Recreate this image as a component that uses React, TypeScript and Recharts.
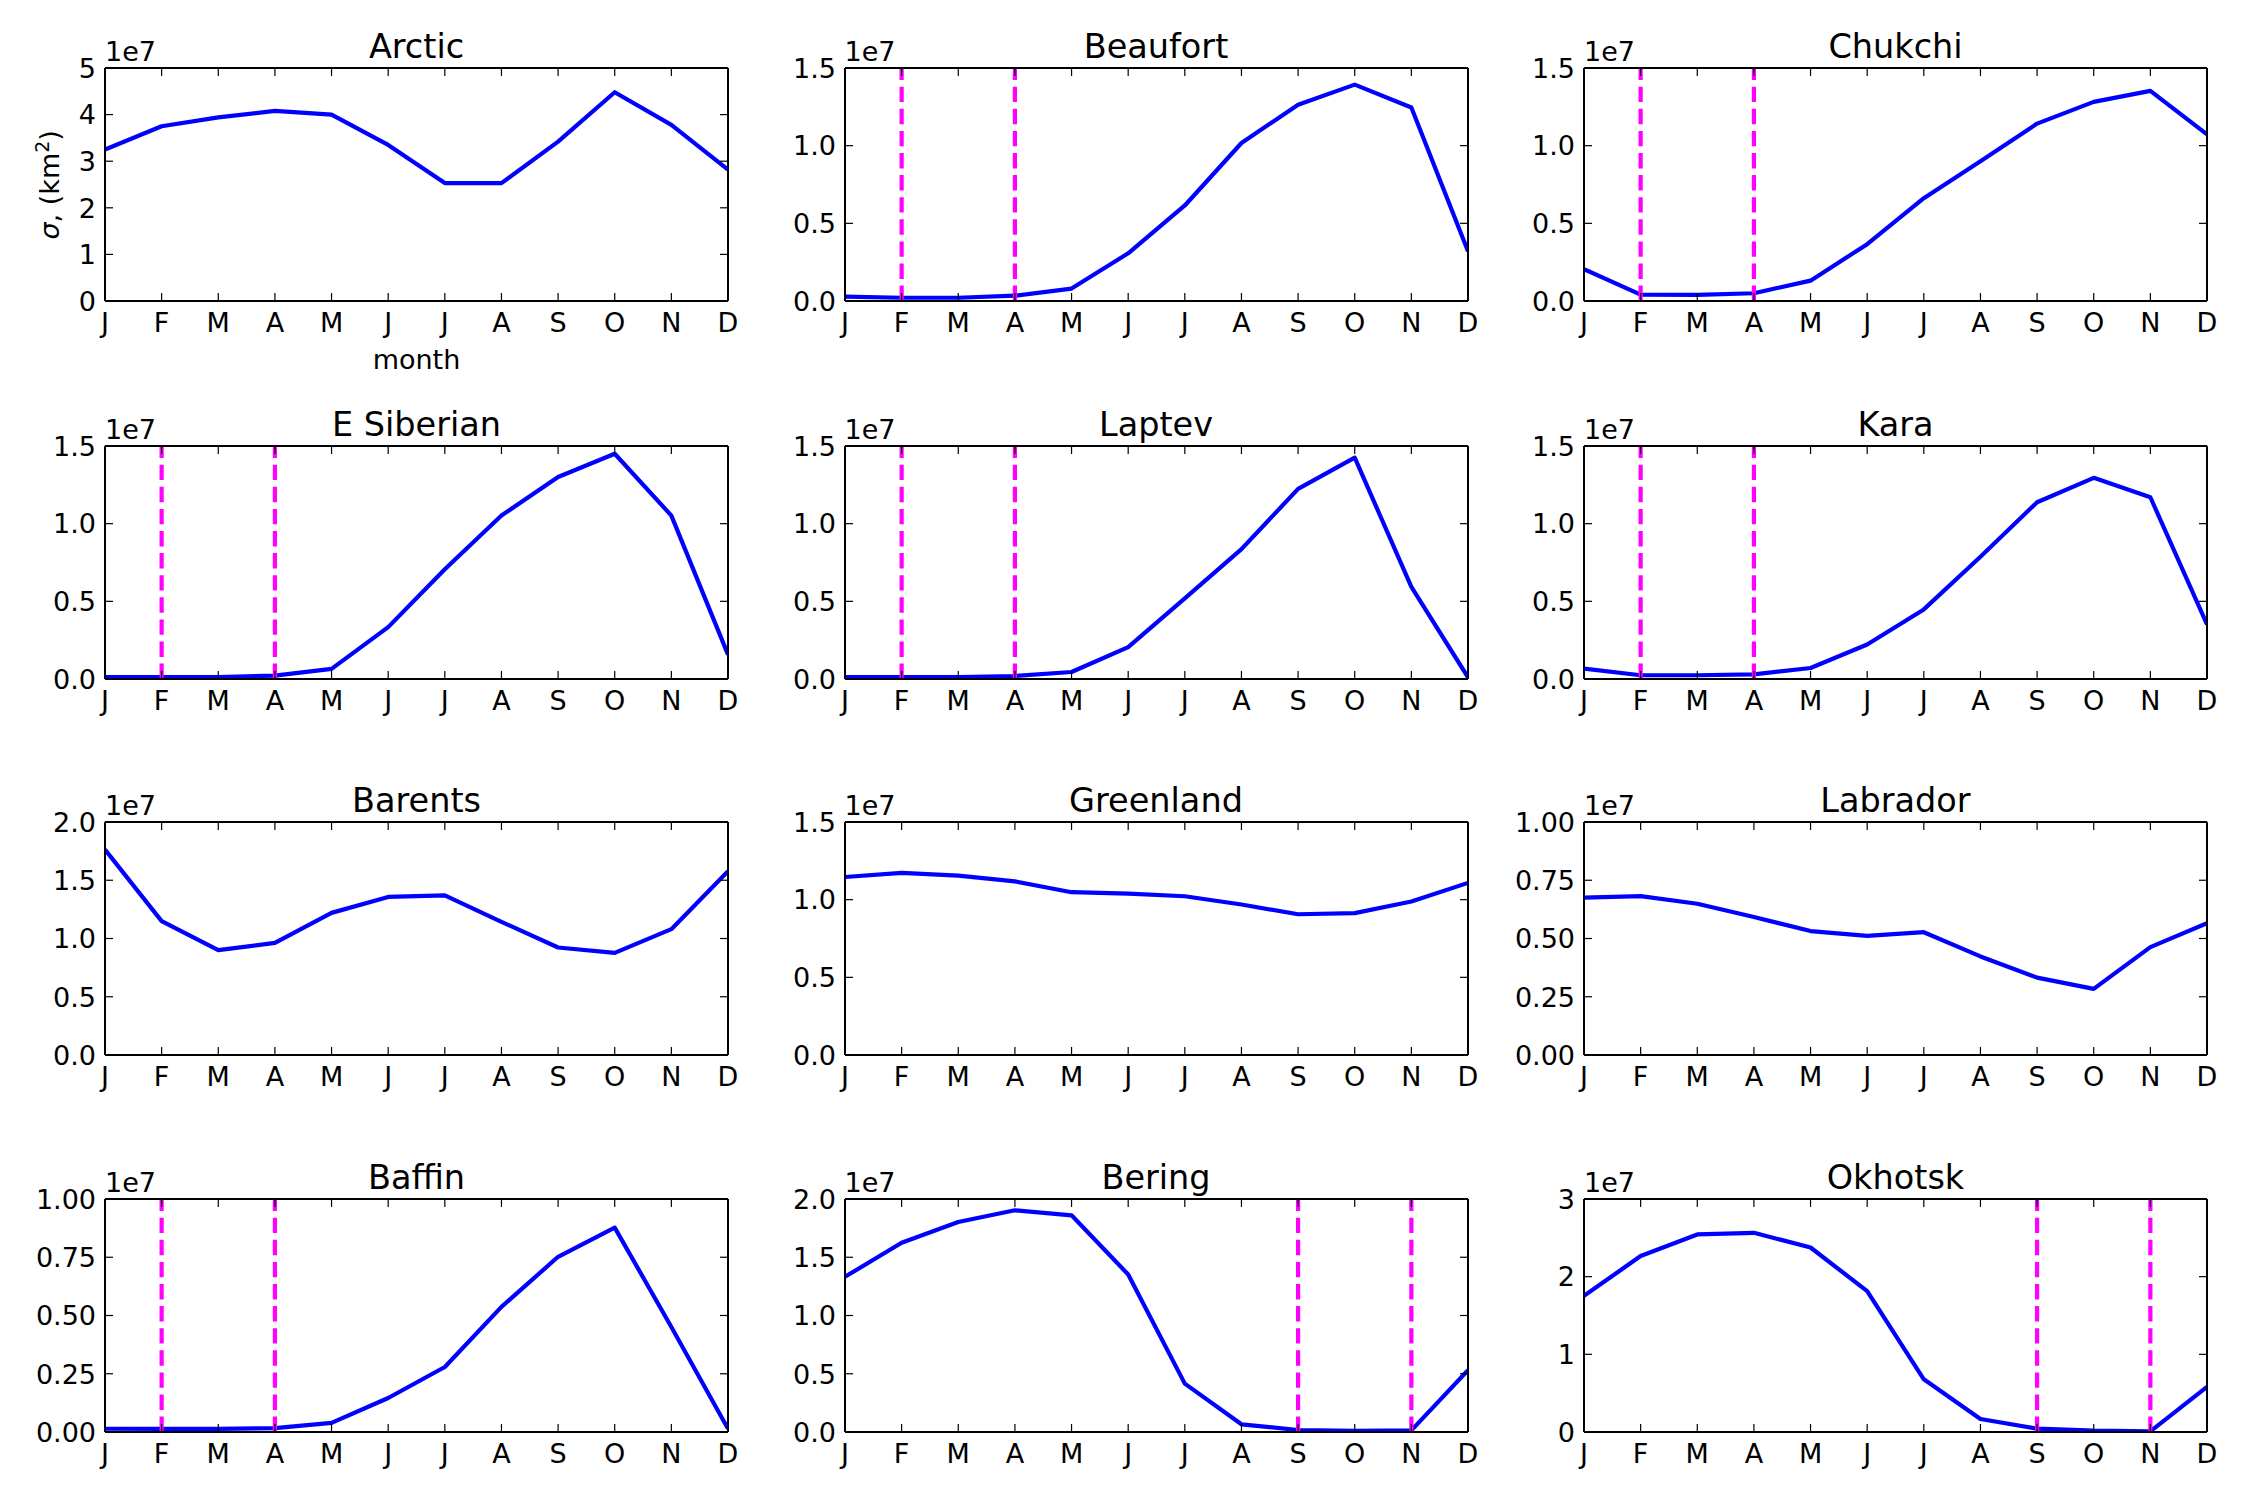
import React from 'react'
import { LineChart, Line, XAxis, YAxis, ReferenceLine } from 'recharts'

// month axis
const MONTHS = ['J', 'F', 'M', 'A', 'M', 'J', 'J', 'A', 'S', 'O', 'N', 'D']
const MONTH_IDX = [0, 1, 2, 3, 4, 5, 6, 7, 8, 9, 10, 11]

// sigma per region, in units of 1e7 km^2
const arctic = [3.25, 3.75, 3.94, 4.08, 4.0, 3.35, 2.53, 2.53, 3.42, 4.48, 3.78, 2.82]
const beaufort = [0.028, 0.021, 0.021, 0.034, 0.08, 0.307, 0.615, 1.017, 1.264, 1.393, 1.246, 0.32]
const chukchi = [0.205, 0.041, 0.039, 0.05, 0.131, 0.366, 0.662, 0.9, 1.142, 1.282, 1.353, 1.073]
const eSiberian = [0.013, 0.013, 0.013, 0.022, 0.065, 0.334, 0.707, 1.052, 1.3, 1.45, 1.052, 0.157]
const laptev = [0.013, 0.013, 0.013, 0.019, 0.045, 0.205, 0.519, 0.836, 1.224, 1.425, 0.593, 0.011]
const kara = [0.067, 0.024, 0.024, 0.03, 0.071, 0.222, 0.448, 0.787, 1.138, 1.295, 1.17, 0.351]
const barents = [1.763, 1.149, 0.9, 0.963, 1.22, 1.357, 1.371, 1.143, 0.923, 0.877, 1.08, 1.577]
const greenland = [1.146, 1.172, 1.155, 1.118, 1.048, 1.039, 1.022, 0.969, 0.906, 0.913, 0.988, 1.108]
const labrador = [0.675, 0.682, 0.649, 0.592, 0.532, 0.511, 0.527, 0.423, 0.332, 0.284, 0.463, 0.566]
const baffin = [0.014, 0.013, 0.013, 0.017, 0.039, 0.146, 0.279, 0.537, 0.752, 0.877, 0.451, 0.014]
const bering = [1.332, 1.625, 1.802, 1.903, 1.86, 1.352, 0.415, 0.066, 0.017, 0.009, 0.014, 0.53]
const okhotsk = [1.753, 2.265, 2.544, 2.565, 2.376, 1.813, 0.679, 0.168, 0.043, 0.017, 0.009, 0.58]

// y tick sets
const ticks0to5 = [0, 1, 2, 3, 4, 5]
const ticks0to15 = [0, 0.5, 1.0, 1.5]
const ticks0to2 = [0, 0.5, 1.0, 1.5, 2.0]
const ticks0to1 = [0, 0.25, 0.5, 0.75, 1.0]
const ticks0to3 = [0, 1, 2, 3]

// months marked with dashed lines (indices)
const winterMarks = [1, 3]
const autumnMarks = [8, 10]

const panels = [
  { title: 'Arctic', values: arctic, yTicks: ticks0to5, dec: 0, marks: [] as number[] },
  { title: 'Beaufort', values: beaufort, yTicks: ticks0to15, dec: 1, marks: winterMarks },
  { title: 'Chukchi', values: chukchi, yTicks: ticks0to15, dec: 1, marks: winterMarks },
  { title: 'E Siberian', values: eSiberian, yTicks: ticks0to15, dec: 1, marks: winterMarks },
  { title: 'Laptev', values: laptev, yTicks: ticks0to15, dec: 1, marks: winterMarks },
  { title: 'Kara', values: kara, yTicks: ticks0to15, dec: 1, marks: winterMarks },
  { title: 'Barents', values: barents, yTicks: ticks0to2, dec: 1, marks: [] as number[] },
  { title: 'Greenland', values: greenland, yTicks: ticks0to15, dec: 1, marks: [] as number[] },
  { title: 'Labrador', values: labrador, yTicks: ticks0to1, dec: 2, marks: [] as number[] },
  { title: 'Baffin', values: baffin, yTicks: ticks0to1, dec: 2, marks: winterMarks },
  { title: 'Bering', values: bering, yTicks: ticks0to2, dec: 1, marks: autumnMarks },
  { title: 'Okhotsk', values: okhotsk, yTicks: ticks0to3, dec: 0, marks: autumnMarks },
]

const COL_LEFT = [105, 844.5, 1584]
const ROW_TOP = [68.3, 445.7, 821.7, 1199]
const PLOT_W = 623
const PLOT_H = 233
const PAD_L = 110
const PAD_T = 20
const PAD_R = 20
const PAD_B = 50
// axes need a non-zero size to be drawn
const AX = 1

const FONT = '"DejaVu Sans", sans-serif'
const TICK_FS = 27
const TITLE_FS = 33.5
const TICK_LEN = 8

const frame = { stroke: '#000', strokeWidth: 2 }

function BottomTick(props: any) {
  const { x, y, payload } = props
  return (
    <g>
      <line x1={x} y1={y} x2={x} y2={y - TICK_LEN} stroke="#000" strokeWidth={1.2} />
      <text x={x} y={y + 30.5} textAnchor="middle" fontSize={TICK_FS} fontFamily={FONT} fill="#000">
        {MONTHS[payload.value]}
      </text>
    </g>
  )
}

function TopTick(props: any) {
  const { x, y } = props
  return <line x1={x} y1={y} x2={x} y2={y + TICK_LEN} stroke="#000" strokeWidth={1.2} />
}

function leftTick(dec: number) {
  return (props: any) => {
    const { x, y, payload } = props
    return (
      <g>
        <line x1={x} y1={y} x2={x + TICK_LEN} y2={y} stroke="#000" strokeWidth={1.2} />
        <text x={x - 9} y={y + 9.8} textAnchor="end" fontSize={TICK_FS} fontFamily={FONT} fill="#000">
          {Number(payload.value).toFixed(dec)}
        </text>
      </g>
    )
  }
}

function RightTick(props: any) {
  const { x, y } = props
  return <line x1={x} y1={y} x2={x - TICK_LEN} y2={y} stroke="#000" strokeWidth={1.2} />
}

function Panel({ p, left, top }: { p: (typeof panels)[number]; left: number; top: number }) {
  const rows = MONTH_IDX.map((i) => ({ i, v: p.values[i] }))
  const yMax = p.yTicks[p.yTicks.length - 1]
  return (
    <div style={{ position: 'absolute', left: left - PAD_L, top: top - PAD_T }}>
      <LineChart
        width={PAD_L + PLOT_W + PAD_R}
        height={PAD_T + PLOT_H + PAD_B}
        data={rows}
        margin={{ top: PAD_T - AX, right: PAD_R - AX, bottom: PAD_B - AX, left: PAD_L - AX }}
      >
        <XAxis
          dataKey="i"
          type="number"
          domain={[0, 11]}
          ticks={MONTH_IDX}
          interval={0}
          height={AX}
          allowDataOverflow
          axisLine={frame}
          tickLine={false}
          tickSize={0}
          tickMargin={0}
          tick={(t: any) => <BottomTick {...t} />}
        />
        <XAxis
          xAxisId="top"
          orientation="top"
          dataKey="i"
          type="number"
          domain={[0, 11]}
          ticks={MONTH_IDX}
          interval={0}
          height={AX}
          allowDataOverflow
          axisLine={frame}
          tickLine={false}
          tickSize={0}
          tickMargin={0}
          tick={(t: any) => <TopTick {...t} />}
        />
        <YAxis
          type="number"
          domain={[0, yMax]}
          ticks={p.yTicks}
          interval={0}
          width={AX}
          allowDataOverflow
          axisLine={frame}
          tickLine={false}
          tickSize={0}
          tickMargin={0}
          tick={leftTick(p.dec)}
        />
        <YAxis
          yAxisId="right"
          orientation="right"
          type="number"
          domain={[0, yMax]}
          ticks={p.yTicks}
          interval={0}
          width={AX}
          allowDataOverflow
          axisLine={frame}
          tickLine={false}
          tickSize={0}
          tickMargin={0}
          tick={(t: any) => <RightTick {...t} />}
        />
        <Line
          type="linear"
          dataKey="v"
          stroke="#0000ff"
          strokeWidth={4.2}
          strokeLinejoin="round"
          dot={false}
          activeDot={false}
          isAnimationActive={false}
        />
        {p.marks.map((m) => (
          <ReferenceLine key={m} x={m} stroke="#ff00ff" strokeWidth={4.2} strokeDasharray="15.4 6.7" />
        ))}
      </LineChart>
    </div>
  )
}

export default function App() {
  return (
    <div
      style={{
        position: 'absolute',
        left: 0,
        top: 0,
        width: 2250,
        height: 1500,
        background: '#fff',
        overflow: 'hidden',
      }}
    >
      {panels.map((p, k) => (
        <Panel key={p.title} p={p} left={COL_LEFT[k % 3]} top={ROW_TOP[Math.floor(k / 3)]} />
      ))}
      <svg
        width={2250}
        height={1500}
        style={{ position: 'absolute', left: 0, top: 0, pointerEvents: 'none' }}
        fontFamily={FONT}
      >
        {panels.map((p, k) => {
          const left = COL_LEFT[k % 3]
          const top = ROW_TOP[Math.floor(k / 3)]
          return (
            <g key={p.title}>
              <text x={left + PLOT_W / 2} y={top - 10} textAnchor="middle" fontSize={TITLE_FS} fill="#000">
                {p.title}
              </text>
              <text x={left} y={top - 7} fontSize={TICK_FS} fill="#000">
                1e7
              </text>
            </g>
          )
        })}
        <text x={COL_LEFT[0] + PLOT_W / 2} y={369} textAnchor="middle" fontSize={TICK_FS} fill="#000">
          month
        </text>
        <text transform={`translate(59, ${ROW_TOP[0] + PLOT_H / 2}) rotate(-90)`} textAnchor="middle" fontSize={TICK_FS} fill="#000">
          <tspan fontStyle="italic">σ</tspan>, (km
          <tspan dy={-10} fontSize={19}>2</tspan>
          <tspan dy={10}>)</tspan>
        </text>
      </svg>
    </div>
  )
}
